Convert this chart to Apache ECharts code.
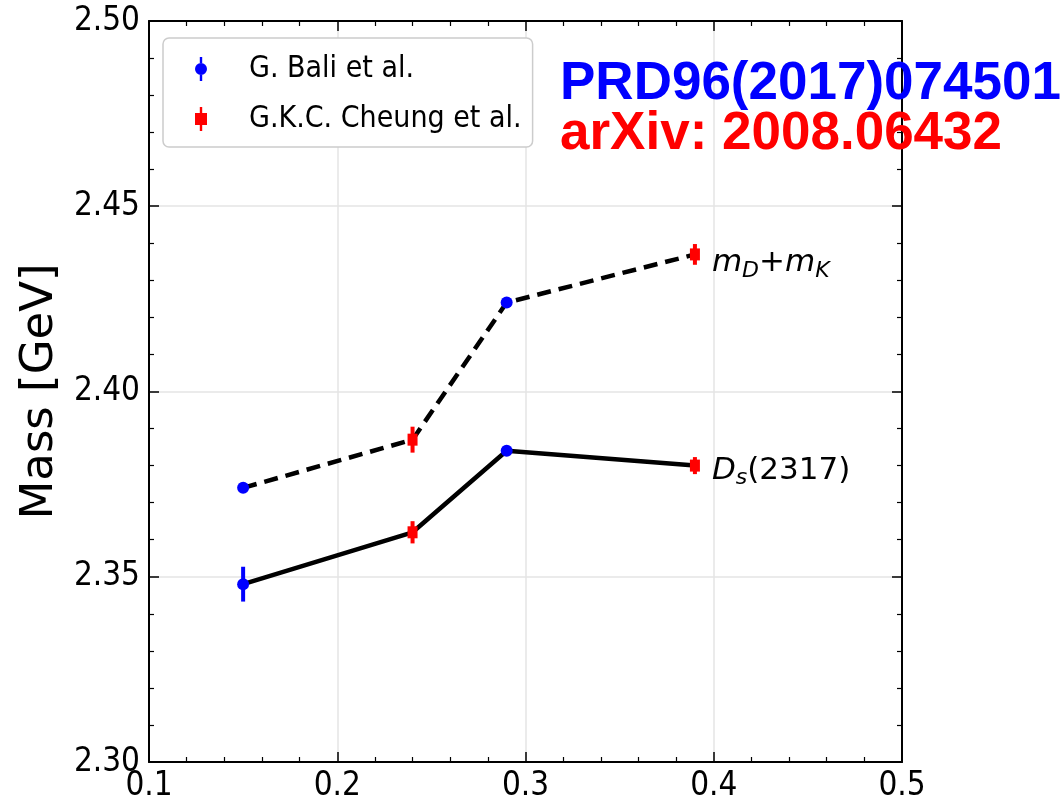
<!DOCTYPE html>
<html><head><meta charset="utf-8">
<script src="https://cdn.jsdelivr.net/npm/echarts@6/dist/echarts.min.js"></script>
<style>html,body{margin:0;padding:0;background:#fff}#c{width:1061px;height:804px}</style>
</head><body><div id="c"></div>
<script>
// ---- data ----
const baliName = 'G. Bali et al.';
const cheungName = 'G.K.C. Cheung et al.';
const baliX = [0.15, 0.29];
const baliThr = [2.374, 2.424];
const baliThrErr = [0.0008, 0.0008];
const baliDs = [2.348, 2.384];
const baliDsErr = [0.0047, 0.0012];
const cheungX = [0.24, 0.39];
const cheungThr = [2.387, 2.437];
const cheungThrErr = [0.0035, 0.0028];
const cheungDs = [2.362, 2.380];
const cheungDsErr = [0.003, 0.0023];
const xTickLabels = ['0.1', '0.2', '0.3', '0.4', '0.5'];
const yTickLabels = ['2.30', '2.35', '2.40', '2.45', '2.50'];
const yName = 'Mass [GeV]';
const note1 = 'PRD96(2017)074501';
const note2 = 'arXiv: 2008.06432';

// ---- build ----
function lineData(xa, ya, xb, yb) {
  const pts = [];
  xa.forEach((x, i) => pts.push([x, ya[i]]));
  xb.forEach((x, i) => pts.push([x, yb[i]]));
  pts.sort((a, b) => a[0] - b[0]);
  return pts;
}
const thrLine = lineData(baliX, baliThr, cheungX, cheungThr);
const dsLine = lineData(baliX, baliDs, cheungX, cheungDs);

const BLUE = '#0000ff', RED = '#ff0000';
function errSeries(name, xs, ys, es, color) {
  return {
    type: 'custom', name: name + ' err', z: 5, silent: true,
    data: xs.map((x, i) => [x, ys[i], es[i]]),
    renderItem: function (params, api) {
      const x = api.value(0), y = api.value(1), e = api.value(2);
      const p1 = api.coord([x, y - e]), p2 = api.coord([x, y + e]);
      return { type: 'line', shape: { x1: p1[0], y1: p1[1], x2: p2[0], y2: p2[1] },
        style: { stroke: color, lineWidth: 4 } };
    }
  };
}
const subRich = {
  i: { fontFamily: 'DejaVu Sans', fontStyle: 'italic', fontSize: 31, color: '#000' },
  n: { fontFamily: 'DejaVu Sans', fontSize: 31, color: '#000' },
  s: { fontFamily: 'DejaVu Sans', fontStyle: 'italic', fontSize: 22, color: '#000', padding: [16, 0, 0, 0] }
};
const tickFont = { fontFamily: 'DejaVu Sans Condensed', fontSize: 33, color: '#000' };
const axisLine = { show: true, onZero: false, lineStyle: { color: '#000', width: 2 } };

const thrIcon = 'path://M4,0L6,0L6,5L4,5Z M4,15L6,15L6,20L4,20Z M0,10A5,5 0 1 1 10,10A5,5 0 1 1 0,10Z';
const redIcon = 'path://M4,0L6,0L6,5L4,5Z M4,15L6,15L6,20L4,20Z M0,5L10,5L10,15L0,15Z';

const option = {
  animation: false,
  backgroundColor: '#fff',
  grid: { left: 149, right: 159, top: 21, bottom: 42 },
  legend: {
    orient: 'vertical', left: 163, top: 38,
    padding: [16, 11, 13, 32],
    itemWidth: 40, itemHeight: 24, itemGap: 20,
    backgroundColor: '#fff', borderColor: '#cccccc', borderWidth: 1.5, borderRadius: 6,
    textStyle: { fontFamily: 'DejaVu Sans Condensed', fontSize: 30, color: '#000', padding: [0, 0, 0, 23] },
    data: [{ name: baliName, icon: thrIcon }, { name: cheungName, icon: redIcon }]
  },
  xAxis: [{
    type: 'value', min: 0.1, max: 0.5, interval: 0.1, position: 'bottom',
    axisLine: axisLine,
    axisTick: { show: true, inside: true, length: 10, lineStyle: { color: '#000', width: 1.5 } },
    minorTick: { show: true, splitNumber: 5, length: 5, lineStyle: { color: '#000', width: 1.2 } },
    axisLabel: Object.assign({ margin: 8, formatter: (v) => xTickLabels[Math.round((v - 0.1) / 0.1)] }, tickFont),
    splitLine: { show: true, lineStyle: { color: '#e5e5e5', width: 1.5 } }
  }, {
    type: 'value', min: 0.1, max: 0.5, interval: 0.1, position: 'top',
    axisLine: axisLine,
    axisTick: { show: true, inside: true, length: 10, lineStyle: { color: '#000', width: 1.5 } },
    minorTick: { show: true, splitNumber: 5, length: 5, lineStyle: { color: '#000', width: 1.2 } },
    axisLabel: { show: false }, splitLine: { show: false }
  }],
  yAxis: [{
    type: 'value', min: 2.30, max: 2.50, interval: 0.05, position: 'left',
    name: yName, nameLocation: 'middle', nameGap: 84,
    nameTextStyle: { fontFamily: 'DejaVu Sans', fontSize: 45, color: '#000' },
    axisLine: axisLine,
    axisTick: { show: true, inside: true, length: 10, lineStyle: { color: '#000', width: 1.5 } },
    minorTick: { show: true, splitNumber: 5, length: 5, lineStyle: { color: '#000', width: 1.2 } },
    axisLabel: Object.assign({ margin: 9, formatter: (v) => yTickLabels[Math.round((v - 2.30) / 0.05)] }, tickFont),
    splitLine: { show: true, lineStyle: { color: '#e5e5e5', width: 1.5 } }
  }, {
    type: 'value', min: 2.30, max: 2.50, interval: 0.05, position: 'right',
    axisLine: axisLine,
    axisTick: { show: true, inside: true, length: 10, lineStyle: { color: '#000', width: 1.5 } },
    minorTick: { show: true, splitNumber: 5, length: 5, lineStyle: { color: '#000', width: 1.2 } },
    axisLabel: { show: false }, splitLine: { show: false }
  }],
  series: [
    {
      type: 'line', name: 'thr', data: thrLine, z: 3, symbol: 'none', silent: true,
      lineStyle: { color: '#000', width: 4.5, type: [14, 8] },
      endLabel: { show: true, distance: 17, offset: [0, 9], formatter: '{i|m}{s|D}{n|+}{i|m}{s|K}', rich: subRich }
    },
    {
      type: 'line', name: 'ds', data: dsLine, z: 3, symbol: 'none', silent: true,
      lineStyle: { color: '#000', width: 4.5 },
      endLabel: { show: true, distance: 17, offset: [0, 5], formatter: '{i|D}{s|s}{n|(2317)}', rich: subRich }
    },
    errSeries(baliName, baliX, baliThr, baliThrErr, BLUE),
    errSeries(baliName, baliX, baliDs, baliDsErr, BLUE),
    errSeries(cheungName, cheungX, cheungThr, cheungThrErr, RED),
    errSeries(cheungName, cheungX, cheungDs, cheungDsErr, RED),
    {
      type: 'scatter', name: baliName, z: 6, symbol: 'circle', symbolSize: 12,
      itemStyle: { color: BLUE, opacity: 1 },
      data: baliX.map((x, i) => [x, baliThr[i]]).concat(baliX.map((x, i) => [x, baliDs[i]]))
    },
    {
      type: 'scatter', name: cheungName, z: 6, symbol: 'rect', symbolSize: [10, 12],
      itemStyle: { color: RED, opacity: 1 },
      data: cheungX.map((x, i) => [x, cheungThr[i]]).concat(cheungX.map((x, i) => [x, cheungDs[i]]))
    }
  ],
  graphic: [
    { type: 'text', left: 560, top: 58, z: 10,
      style: { text: note1, fill: BLUE, font: 'bold 53px "Liberation Sans", Arial, sans-serif' } },
    { type: 'text', left: 560, top: 108, z: 10,
      style: { text: note2, fill: RED, font: 'bold 53px "Liberation Sans", Arial, sans-serif' } }
  ]
};
const chart = echarts.init(document.getElementById('c'), null, { renderer: 'canvas' });
chart.setOption(option);
</script>
</body></html>
